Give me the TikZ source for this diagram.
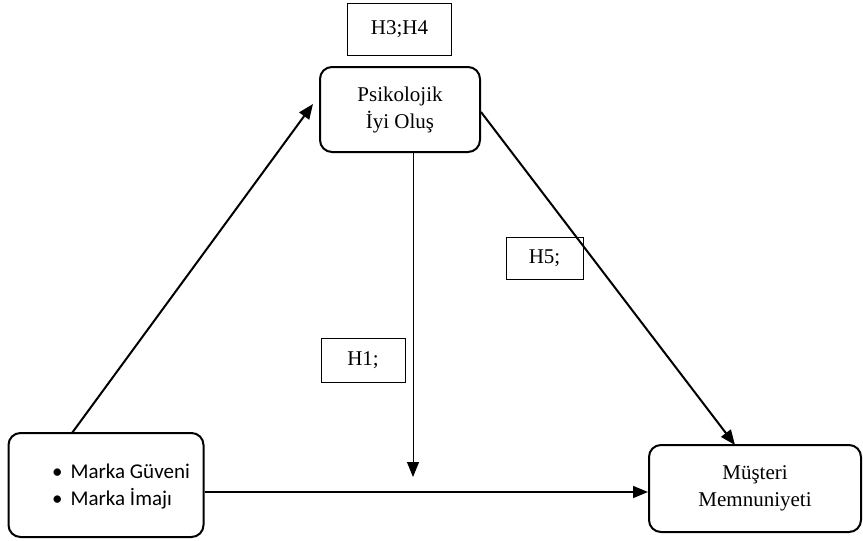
\documentclass[tikz,border=0pt]{standalone}
\usepackage{fontspec}
\setmainfont{Liberation Serif}
\newfontfamily\calib{Carlito}
\usetikzlibrary{arrows.meta,calc}
\begin{document}
\begin{tikzpicture}[x=1pt,y=-1pt,
  mainbox/.style={draw=black,line width=2pt,rounded corners=12pt,align=center,font=\fontsize{21}{27}\selectfont,inner sep=0pt},
  hbox/.style={draw=black,line width=0.9pt,align=center,font=\fontsize{21}{27}\selectfont,inner sep=0pt},
  thickarrow/.style={line width=2pt,-{Triangle[length=15pt,width=12pt]}},
  midarrow/.style={line width=1.5pt,-{Triangle[length=15pt,width=12pt]}},
  thinarrow/.style={line width=1pt,-{Triangle[length=15pt,width=12pt]}}]
\useasboundingbox (0,0) rectangle (863,541);
\node[hbox,minimum width=104pt,minimum height=52pt] (h34) at (399.5,29) {H3;H4};
\node[mainbox,minimum width=160pt,minimum height=85pt] (psi) at (400,109.5) {Psikolojik\\İyi Oluş};
\node[mainbox,minimum width=195pt,minimum height=104pt] (mk) at (106,485) {};
\node[align=left,anchor=west,inner sep=0pt,font=\calib\fontsize{21}{27}\selectfont] (mktext) at (52,486.5) {\textbullet\hspace{8pt}Marka Güveni\\\textbullet\hspace{8pt}Marka İmajı};
\node[mainbox,minimum width=212pt,minimum height=87pt] (mm) at (755,488.5) {Müşteri\\Memnuniyeti};
\node[hbox,minimum width=84pt,minimum height=44pt] (h1) at (363,360) {H1;};
\node[hbox,minimum width=77pt,minimum height=42pt] (h5) at (544.5,258) {H5;};
\coordinate (s1) at (72,433);
\coordinate (t1) at (313,104);
\coordinate (s2) at (481,112);
\coordinate (t2) at (735,445);
\coordinate (s3) at (413,152);
\coordinate (t3) at (413,477);
\draw[thickarrow] (s1) -- (t1);
\draw[thickarrow] (s2) -- (t2);
\draw[thinarrow] (s3) -- (t3);
\draw[midarrow] (mk.east |- 0,492) -- (mm.west |- 0,492);
\end{tikzpicture}
\end{document}
